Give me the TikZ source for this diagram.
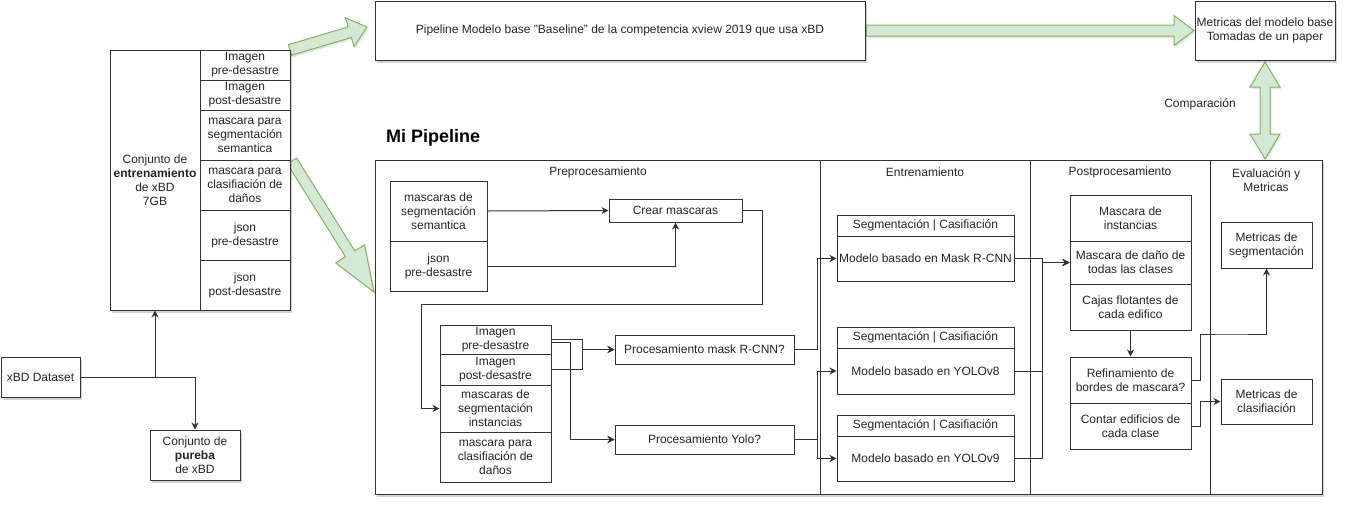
\documentclass[tikz,border=0pt]{standalone}
\usepackage{fontspec}
\setmainfont{Liberation Sans}
\usetikzlibrary{arrows.meta,calc,shadows}
\definecolor{gfill}{HTML}{D5E8D4}
\definecolor{gline}{HTML}{82B366}
\definecolor{lncol}{HTML}{333333}
\newcommand{\dfont}{\fontsize{12}{14}\selectfont}
\tikzset{
  box/.style={draw=lncol, fill=white, line width=1pt, inner sep=0pt, align=center, text=black!85, font=\dfont},
  shbox/.style={box, drop shadow={shadow xshift=2pt, shadow yshift=-2.5pt, opacity=0.25, fill=black!70}},
  txt/.style={inner sep=0pt, align=center, text=black!85, font=\dfont},
  arr/.style={draw=lncol, line width=1pt, -{Stealth[length=7pt,width=7pt]}},
  ln/.style={draw=lncol, line width=1pt},
  garr/.style={draw=gline, fill=gfill, line width=1pt, line join=miter, drop shadow={shadow xshift=1.5pt, shadow yshift=-2pt, opacity=0.15, fill=black!70}}
}
% green block arrow: start, tip, shaft half width, head half width, head length
\newcommand{\garrow}[5]{%
  \coordinate (ga-h) at ($(#2)!#5!(#1)$);
  \path[garr] ($(#1)!#3!90:(#2)$) -- ($(ga-h)!#3!-90:(#1)$) -- ($(ga-h)!#4!-90:(#1)$) -- (#2) -- ($(ga-h)!#4!90:(#1)$) -- ($(ga-h)!#3!90:(#1)$) -- ($(#1)!#3!-90:(#2)$) -- cycle;
}
\newcommand{\gdarrow}[5]{%
  \coordinate (ga-a) at ($(#1)!#5!(#2)$);
  \coordinate (ga-b) at ($(#2)!#5!(#1)$);
  \path[garr] (#1) -- ($(ga-a)!#4!90:(#2)$) -- ($(ga-a)!#3!90:(#2)$) -- ($(ga-b)!#3!-90:(#1)$) -- ($(ga-b)!#4!-90:(#1)$) -- (#2) -- ($(ga-b)!#4!90:(#1)$) -- ($(ga-b)!#3!90:(#1)$) -- ($(ga-a)!#3!-90:(#2)$) -- ($(ga-a)!#4!-90:(#2)$) -- cycle;
}
\begin{document}
\begin{tikzpicture}[x=1pt,y=-1pt]
\useasboundingbox[fill=white] (0,0) rectangle (1348,507);

% ---------- green block arrows ----------
\coordinate (g1s) at (290,50);
\coordinate (g1e) at (367,27);
\coordinate (g2s) at (292,161);
\coordinate (g2e) at (374,292);
\coordinate (g3s) at (866,30.5);
\coordinate (g3e) at (1194,30.5);
\coordinate (g4s) at (1265,62);
\coordinate (g4e) at (1265,159);
\garrow{g1s}{g1e}{5.5pt}{15pt}{18pt}
\garrow{g2s}{g2e}{5.5pt}{17pt}{45pt}
\garrow{g3s}{g3e}{5.5pt}{15pt}{20pt}
\gdarrow{g4s}{g4e}{5pt}{15pt}{25pt}

% ---------- left side ----------
\node[shbox, minimum width=180pt, minimum height=260pt] (trainbg) at (200,180) {};
\node[box, minimum width=90pt, minimum height=260pt] (train) at (155,180) {Conjunto de\\\textbf{entrenamiento}\\de xBD\\7GB};
\node[box, minimum width=90pt, minimum height=30pt] (tr1) at (245,65) {Imagen\\pre-desastre};
\node[box, minimum width=90pt, minimum height=30pt] (tr2) at (245,95) {Imagen\\post-desastre};
\node[box, minimum width=90pt, minimum height=50pt] (tr3) at (245,135) {mascara para\\segmentación\\semantica};
\node[box, minimum width=90pt, minimum height=50pt] (tr4) at (245,185) {mascara para\\clasifiación de\\daños};
\node[box, minimum width=90pt, minimum height=50pt] (tr5) at (245,235) {json\\pre-desastre};
\node[box, minimum width=90pt, minimum height=50pt] (tr6) at (245,285) {json\\post-desastre};

\node[shbox, minimum width=79pt, minimum height=40pt] (xbd) at (40.5,377) {xBD Dataset};
\node[shbox, minimum width=90pt, minimum height=50pt] (test) at (195,455) {Conjunto de\\\textbf{pureba}\\de xBD};
\draw[arr] (xbd.east) -| (train.south);
\draw[arr] (xbd.east) -| (test.north);

% ---------- top row ----------
\node[shbox, minimum width=490pt, minimum height=59pt] (base) at (620,30.5) {Pipeline Modelo base \symbol{34}Baseline\symbol{34} de la competencia xview 2019 que usa xBD};
\node[shbox, minimum width=140pt, minimum height=59pt] (mbase) at (1265,30.5) {Metricas del modelo base\\Tomadas de un paper};
\node[txt] (comp) at (1200,104) {Comparación};

% ---------- Mi Pipeline ----------
\node[anchor=west, inner sep=0pt, text=black, font=\bfseries\fontsize{18}{20}\selectfont] (mip) at (386,138) {Mi Pipeline};
\node[shbox, minimum width=947pt, minimum height=334pt] (pipe) at (848.5,327) {};
\node[box, minimum width=445pt, minimum height=334pt] (cpre) at (597.5,327) {};
\node[box, minimum width=210pt, minimum height=334pt] (cent) at (925,327) {};
\node[box, minimum width=180pt, minimum height=334pt] (cpost) at (1120,327) {};
\node[box, minimum width=112pt, minimum height=334pt] (ceval) at (1266,327) {};
\node[txt] (tpre) at (598,172) {Preprocesamiento};
\node[txt] (tent) at (925,172) {Entrenamiento};
\node[txt] (tpost) at (1120,172) {Postprocesamiento};
\node[txt] (teval) at (1266,180) {Evaluación y\\Metricas};

% Preprocesamiento
\node[box, minimum width=97pt, minimum height=60pt] (pa1) at (438.5,211) {mascaras de\\segmentación\\semantica};
\node[box, minimum width=97pt, minimum height=50pt] (pa2) at (438.5,266) {json\\pre-desastre};
\node[box, minimum width=133pt, minimum height=23pt] (crear) at (675.5,210.5) {Crear mascaras};
\draw[arr] (pa1.east) -- (crear.west);
\draw[arr] (pa2.east) -| (crear.south);

\node[box, minimum width=111pt, minimum height=29pt] (pb1) at (495.5,339.5) {Imagen\\pre-desastre};
\node[box, minimum width=111pt, minimum height=31pt] (pb2) at (495.5,369.5) {Imagen\\post-desastre};
\node[box, minimum width=111pt, minimum height=47pt] (pb3) at (495.5,408.5) {mascaras de\\segmentación\\instancias};
\node[box, minimum width=111pt, minimum height=50pt] (pb4) at (495.5,457) {mascara para\\clasifiación de\\daños};
\draw[arr] (crear.east) -- ++(20,0) |- (421,304) |- (pb3.west);

\node[box, minimum width=179pt, minimum height=29pt] (rcnn) at (704.5,349.5) {Procesamiento mask R-CNN?};
\node[box, minimum width=179pt, minimum height=29pt] (yolo) at (704.5,439.5) {Procesamiento Yolo?};
\draw[arr] (pb1.east) -- ++(31,0) |- (rcnn.west);
\draw[arr] (pb2.east) -- ++(31,0) |- (rcnn.west);
\draw[arr] ([yshift=-3pt]pb1.east) -- ++(19,0) |- (yolo.west);
\draw[arr] (pb2.east) -- ++(19,0) |- (yolo.west);

% Entrenamiento
\node[box, minimum width=177pt, minimum height=21pt] (m1h) at (925.5,225.5) {Segmentación | Casifiación};
\node[box, minimum width=177pt, minimum height=45pt] (m1b) at (925.5,258.5) {Modelo basado en Mask R-CNN};
\node[box, minimum width=177pt, minimum height=21pt] (m2h) at (925.5,337.5) {Segmentación | Casifiación};
\node[box, minimum width=177pt, minimum height=46pt] (m2b) at (925.5,371) {Modelo basado en YOLOv8};
\node[box, minimum width=177pt, minimum height=21pt] (m3h) at (925.5,425.5) {Segmentación | Casifiación};
\node[box, minimum width=177pt, minimum height=45pt] (m3b) at (925.5,458.5) {Modelo basado en YOLOv9};
\draw[arr] (rcnn.east) -- ++(23,0) |- (m1b.west);
\draw[arr] (yolo.east) -- ++(23,0) |- (m2b.west);
\draw[arr] (yolo.east) -- ++(23,0) |- (m3b.west);

% Postprocesamiento
\node[box, minimum width=121pt, minimum height=46pt] (ps1) at (1130.5,218) {Mascara de\\instancias};
\node[box, minimum width=121pt, minimum height=43pt] (ps2) at (1130.5,262.5) {Mascara de daño de\\todas las clases};
\node[box, minimum width=121pt, minimum height=46pt] (ps3) at (1130.5,307) {Cajas flotantes de\\cada edifico};
\draw[arr] (m1b.east) -- ++(28,0) |- (ps2.west);
\draw[arr] (m2b.east) -- ++(28,0) |- (ps2.west);
\draw[arr] (m3b.east) -- ++(28,0) |- (ps2.west);
\node[box, minimum width=121pt, minimum height=46pt] (ref) at (1130.5,380) {Refinamiento de\\bordes de mascara?};
\node[box, minimum width=121pt, minimum height=46pt] (cnt) at (1130.5,426) {Contar edificios de\\cada clase};
\draw[arr] (ps3.south) -- (ref.north);

% Evaluacion
\node[box, minimum width=91pt, minimum height=46pt] (ms) at (1266.5,245) {Metricas de\\segmentación};
\node[box, minimum width=91pt, minimum height=45pt] (mc) at (1266.5,401.5) {Metricas de\\clasifiación};
\draw[arr] (ref.east) -- ++(9,0) |- (1230,334) -| (ms.south);
\draw[arr] (cnt.east) -- ++(9,0) |- (mc.west);
\end{tikzpicture}
\end{document}
